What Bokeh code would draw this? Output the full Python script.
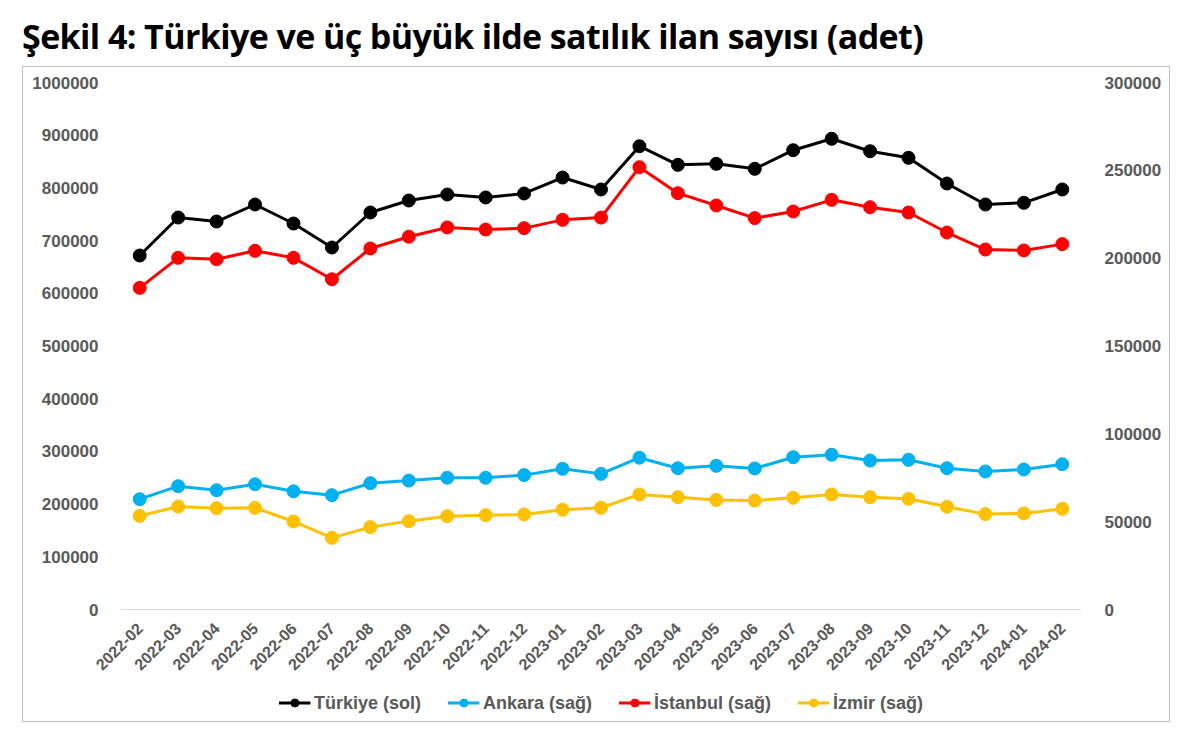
import math
from bokeh.plotting import figure
from bokeh.models import (ColumnDataSource, FactorRange, Range1d, LinearAxis, FixedTicker,
                          NumeralTickFormatter, Legend, LegendItem, Div)
from bokeh.layouts import column
from bokeh.embed import file_html
from bokeh.resources import INLINE

months = ["2022-02", "2022-03", "2022-04", "2022-05", "2022-06", "2022-07", "2022-08",
          "2022-09", "2022-10", "2022-11", "2022-12", "2023-01", "2023-02", "2023-03",
          "2023-04", "2023-05", "2023-06", "2023-07", "2023-08", "2023-09", "2023-10",
          "2023-11", "2023-12", "2024-01", "2024-02"]

turkiye = [671700, 743800, 736200, 768500, 732400, 686900, 753300, 776100, 787500, 781800,
           789400, 819700, 797000, 879100, 843800, 845700, 836200, 871500, 893200, 869600,
           857100, 808300, 768500, 771700, 797000]
ankara = [62800, 70200, 67900, 71300, 67300, 65100, 71900, 73400, 75000, 75000,
          76500, 80100, 77200, 86400, 80400, 81800, 80300, 86700, 88100, 84800,
          85200, 80400, 78600, 79700, 82700]
istanbul = [183100, 200200, 199400, 204200, 200200, 188000, 205500, 212200, 217500, 216300,
            217100, 221800, 223100, 251800, 237000, 230000, 222800, 226600, 233200, 229000,
            226000, 214600, 204900, 204400, 208000]
izmir = [53300, 58600, 57700, 57900, 50100, 40800, 46900, 50300, 53100, 53700,
         54100, 56800, 57900, 65500, 63900, 62400, 62000, 63600, 65500, 63900,
         63000, 58500, 54300, 54700, 57300]

left_ticks = [0, 100000, 200000, 300000, 400000, 500000, 600000, 700000, 800000, 900000, 1000000]
right_ticks = [0, 50000, 100000, 150000, 200000, 250000, 300000]

title_text = "Şekil 4: Türkiye ve üç büyük ilde satılık ilan sayısı (adet)"

FONT = "Liberation Sans"
GREY = "#595959"

src = ColumnDataSource(dict(m=months, tr=turkiye, an=ankara, ist=istanbul, iz=izmir))

p = figure(width=1146, height=617, x_range=FactorRange(*months),
           y_range=Range1d(0, 1000000), output_backend="svg", toolbar_location=None,
           min_border_left=97, min_border_right=88, min_border_top=15, min_border_bottom=75)
p.extra_y_ranges = {"right": Range1d(0, 300000)}
p.outline_line_color = None
p.xgrid.visible = False
p.ygrid.visible = False
p.background_fill_color = "white"
p.border_fill_color = "white"

# left axis
ly = p.yaxis[0]
ly.ticker = FixedTicker(ticks=left_ticks)
ly.formatter = NumeralTickFormatter(format="0")
ly.axis_line_color = None
ly.major_tick_line_color = None
ly.minor_tick_line_color = None
ly.major_label_standoff = 16
ly.major_label_text_font = FONT
ly.major_label_text_font_style = "bold"
ly.major_label_text_font_size = "17px"
ly.major_label_text_color = GREY

ry = LinearAxis(y_range_name="right", ticker=FixedTicker(ticks=right_ticks),
                formatter=NumeralTickFormatter(format="0"))
ry.axis_line_color = None
ry.major_tick_line_color = None
ry.minor_tick_line_color = None
ry.major_label_standoff = 17
ry.major_label_text_font = FONT
ry.major_label_text_font_style = "bold"
ry.major_label_text_font_size = "17px"
ry.major_label_text_color = GREY
p.add_layout(ry, "right")

xa = p.xaxis[0]
xa.axis_line_color = "#D9D9D9"
xa.axis_line_width = 1
xa.major_tick_line_color = None
xa.minor_tick_line_color = None
xa.major_label_orientation = math.pi / 4
xa.major_label_standoff = 10
xa.major_label_text_font = FONT
xa.major_label_text_font_style = "bold"
xa.major_label_text_font_size = "16px"
xa.major_label_text_color = GREY

series = [
    ("Türkiye (sol)", "tr", "#000000", "default"),
    ("Ankara (sağ)", "an", "#00B0F0", "right"),
    ("İstanbul (sağ)", "ist", "#FF0000", "right"),
    ("İzmir (sağ)", "iz", "#FFC000", "right"),
]

# legend strip: a small figure below the chart holding only the legend
lf = figure(width=1146, height=37, output_backend="svg", toolbar_location=None,
            x_axis_type=None, y_axis_type=None, min_border=0,
            x_range=Range1d(0, 1), y_range=Range1d(0, 1))
lf.outline_line_color = None
lf.xgrid.visible = False
lf.ygrid.visible = False
lf.background_fill_color = "white"
lf.border_fill_color = "white"
# proxy point kept outside the visible range, only used for legend swatches
proxy = ColumnDataSource(dict(x=[-10, -11], y=[-10, -11]))

items = []
for label, col, color, rng in series:
    p.line(x="m", y=col, source=src, line_color=color, line_width=3, y_range_name=rng)
    p.scatter(x="m", y=col, source=src, size=13, fill_color=color, line_color=color,
              y_range_name=rng)
    llr = lf.line(x="x", y="y", source=proxy, line_color=color, line_width=3)
    lsr = lf.scatter(x="x", y="y", source=proxy, size=8, fill_color=color, line_color=color)
    items.append(LegendItem(label=label, renderers=[llr, lsr]))

legend = Legend(items=items, location="center", orientation="horizontal",
                glyph_width=32, glyph_height=20, label_standoff=4, spacing=26, padding=0,
                margin=0, border_line_color=None, background_fill_alpha=0,
                label_text_font=FONT, label_text_font_style="bold",
                label_text_font_size="18px", label_text_color=GREY)
lf.add_layout(legend)

box = column(p, lf, spacing=0, margin=(0, 0, 0, 22),
             styles={"border": "1px solid #BFBFBF"})

title = Div(text=('<div style="font-family: \'Open Sans\'; font-weight: 700; font-size: 34px; '
                  'letter-spacing: -0.6px; color: #000; padding-left: 22px; padding-top: 16px; '
                  'line-height: 40px; white-space: nowrap;">' + title_text + '</div>'),
            width=1182, height=66, margin=(0, 0, 0, 0))

layout = column(title, box, spacing=0)

open("out.html", "w").write(file_html(layout, INLINE))
